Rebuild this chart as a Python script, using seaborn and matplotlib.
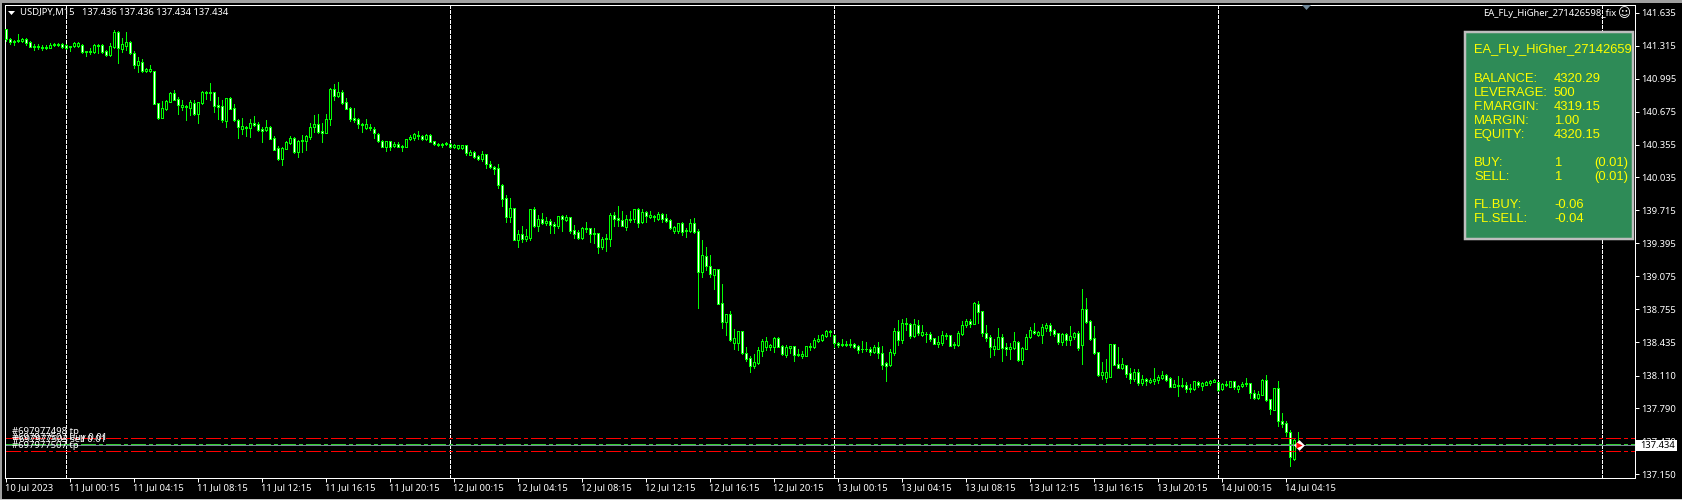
import matplotlib
matplotlib.use("Agg")
import matplotlib.pyplot as plt
from matplotlib.patches import Polygon, Rectangle
from matplotlib.transforms import ScaledTranslation
import pandas as pd
import seaborn as sns

# USDJPY M15 candles, prices
tops = [
    141.475, 141.378, 141.365, 141.371, 141.381, 141.378, 141.352, 141.313, 141.313, 141.306, 141.303, 141.323, 141.332, 141.332, 141.329, 141.319,
    141.310, 141.345, 141.345, 141.323, 141.261, 141.264, 141.323, 141.323, 141.323, 141.264, 141.313, 141.452, 141.446, 141.329, 141.352, 141.352,
    141.242, 141.164, 141.157, 141.086, 141.086, 141.067, 140.756, 140.710, 140.775, 140.856, 140.853, 140.798, 140.736, 140.730, 140.765, 140.759,
    140.765, 140.866, 140.866, 140.866, 140.863, 140.736, 140.726, 140.804, 140.807, 140.707, 140.590, 140.532, 140.529, 140.561, 140.561, 140.555,
    140.503, 140.526, 140.526, 140.419, 140.318, 140.321, 140.380, 140.416, 140.419, 140.390, 140.399, 140.435, 140.526, 140.551, 140.551, 140.487,
    140.600, 140.895, 140.892, 140.863, 140.866, 140.765, 140.707, 140.610, 140.600, 140.555, 140.551, 140.526, 140.503, 140.461, 140.393, 140.386,
    140.386, 140.357, 140.360, 140.341, 140.406, 140.428, 140.454, 140.448, 140.438, 140.448, 140.448, 140.386, 140.364, 140.357, 140.370, 140.357,
    140.347, 140.347, 140.347, 140.347, 140.282, 140.282, 140.243, 140.259, 140.259, 140.162, 140.136, 140.123, 139.961, 139.832, 139.735, 139.735,
    139.482, 139.482, 139.462, 139.725, 139.725, 139.628, 139.628, 139.608, 139.608, 139.579, 139.657, 139.657, 139.647, 139.647, 139.521, 139.501,
    139.543, 139.543, 139.540, 139.495, 139.492, 139.437, 139.446, 139.667, 139.667, 139.637, 139.618, 139.628, 139.634, 139.725, 139.725, 139.696,
    139.696, 139.667, 139.657, 139.680, 139.680, 139.637, 139.618, 139.550, 139.589, 139.595, 139.524, 139.589, 139.589, 139.511, 139.278, 139.268,
    139.171, 139.142, 139.142, 138.811, 138.704, 138.704, 138.471, 138.539, 138.539, 138.325, 138.277, 138.238, 138.358, 138.445, 138.442, 138.406,
    138.474, 138.474, 138.393, 138.384, 138.393, 138.393, 138.319, 138.319, 138.393, 138.400, 138.452, 138.465, 138.503, 138.539, 138.542, 138.500,
    138.422, 138.417, 138.417, 138.417, 138.413, 138.394, 138.371, 138.371, 138.365, 138.384, 138.384, 138.326, 138.229, 138.336, 138.540, 138.540,
    138.618, 138.618, 138.608, 138.608, 138.601, 138.530, 138.517, 138.514, 138.472, 138.433, 138.501, 138.504, 138.501, 138.417, 138.520, 138.601,
    138.637, 138.640, 138.815, 138.802, 138.734, 138.520, 138.482, 138.394, 138.482, 138.482, 138.384, 138.384, 138.443, 138.436, 138.378, 138.482,
    138.550, 138.543, 138.530, 138.579, 138.598, 138.598, 138.550, 138.520, 138.514, 138.514, 138.491, 138.520, 138.520, 138.754, 138.754, 138.637,
    138.472, 138.336, 138.145, 138.148, 138.417, 138.417, 138.219, 138.219, 138.209, 138.132, 138.145, 138.145, 138.073, 138.073, 138.070, 138.077,
    138.093, 138.112, 138.112, 138.083, 138.025, 138.015, 138.015, 138.015, 137.989, 138.054, 138.051, 138.034, 138.047, 138.057, 138.067, 138.044,
    138.024, 138.024, 138.054, 138.054, 138.012, 138.028, 138.034, 138.034, 137.937, 137.931, 138.067, 138.067, 137.879, 137.986, 137.986, 137.671,
    137.645, 137.561, 137.483, 137.441,
]
bottoms = [
    141.378, 141.352, 141.355, 141.361, 141.365, 141.339, 141.306, 141.303, 141.300, 141.297, 141.297, 141.297, 141.323, 141.326, 141.303, 141.297,
    141.300, 141.310, 141.316, 141.255, 141.251, 141.258, 141.255, 141.316, 141.255, 141.225, 141.225, 141.300, 141.290, 141.280, 141.316, 141.242,
    141.131, 141.131, 141.067, 141.067, 141.067, 140.752, 140.613, 140.616, 140.704, 140.772, 140.791, 140.736, 140.723, 140.717, 140.710, 140.655,
    140.655, 140.762, 140.859, 140.859, 140.733, 140.723, 140.594, 140.587, 140.704, 140.594, 140.529, 140.509, 140.513, 140.519, 140.548, 140.496,
    140.490, 140.496, 140.412, 140.305, 140.211, 140.211, 140.315, 140.367, 140.283, 140.283, 140.386, 140.390, 140.432, 140.522, 140.480, 140.464,
    140.470, 140.600, 140.830, 140.830, 140.762, 140.704, 140.607, 140.597, 140.558, 140.545, 140.519, 140.513, 140.464, 140.390, 140.334, 140.334,
    140.334, 140.338, 140.334, 140.334, 140.334, 140.406, 140.422, 140.435, 140.406, 140.406, 140.383, 140.357, 140.354, 140.350, 140.357, 140.328,
    140.334, 140.318, 140.318, 140.269, 140.256, 140.237, 140.217, 140.217, 140.162, 140.133, 140.120, 139.958, 139.829, 139.654, 139.650, 139.430,
    139.430, 139.437, 139.440, 139.450, 139.563, 139.563, 139.592, 139.595, 139.576, 139.566, 139.566, 139.628, 139.624, 139.518, 139.488, 139.446,
    139.449, 139.537, 139.488, 139.488, 139.362, 139.359, 139.433, 139.440, 139.634, 139.618, 139.566, 139.556, 139.624, 139.628, 139.595, 139.605,
    139.663, 139.647, 139.647, 139.628, 139.631, 139.615, 139.547, 139.518, 139.514, 139.508, 139.511, 139.514, 139.508, 139.119, 139.119, 139.171,
    139.100, 139.090, 138.808, 138.633, 138.633, 138.458, 138.429, 138.429, 138.332, 138.273, 138.205, 138.205, 138.231, 138.351, 138.387, 138.384,
    138.387, 138.390, 138.322, 138.309, 138.374, 138.309, 138.306, 138.299, 138.303, 138.390, 138.387, 138.448, 138.455, 138.494, 138.533, 138.422,
    138.406, 138.407, 138.407, 138.407, 138.388, 138.358, 138.365, 138.365, 138.342, 138.339, 138.326, 138.213, 138.206, 138.213, 138.332, 138.456,
    138.456, 138.608, 138.494, 138.498, 138.520, 138.504, 138.511, 138.465, 138.420, 138.420, 138.426, 138.494, 138.400, 138.407, 138.407, 138.517,
    138.601, 138.614, 138.614, 138.728, 138.527, 138.478, 138.391, 138.368, 138.371, 138.381, 138.371, 138.371, 138.378, 138.261, 138.261, 138.371,
    138.485, 138.527, 138.507, 138.504, 138.575, 138.546, 138.517, 138.439, 138.436, 138.459, 138.459, 138.488, 138.381, 138.404, 138.631, 138.465,
    138.329, 138.115, 138.119, 138.090, 138.099, 138.216, 138.187, 138.180, 138.128, 138.080, 138.073, 138.034, 138.038, 138.060, 138.051, 138.060,
    138.067, 138.089, 138.067, 138.002, 138.002, 138.008, 138.008, 137.983, 137.983, 137.979, 138.018, 138.012, 138.021, 138.041, 138.051, 137.973,
    137.976, 138.015, 138.002, 137.999, 137.982, 138.008, 138.024, 137.937, 137.895, 137.892, 137.924, 137.875, 137.785, 137.778, 137.668, 137.642,
    137.558, 137.315, 137.302, 137.432,
]
highs = [
    141.481, 141.394, 141.371, 141.426, 141.387, 141.387, 141.361, 141.329, 141.332, 141.323, 141.319, 141.339, 141.345, 141.342, 141.339, 141.329,
    141.316, 141.355, 141.355, 141.332, 141.268, 141.293, 141.332, 141.332, 141.332, 141.274, 141.339, 141.468, 141.462, 141.387, 141.449, 141.365,
    141.261, 141.203, 141.183, 141.096, 141.128, 141.073, 140.762, 140.782, 140.788, 140.863, 140.885, 140.814, 140.788, 140.739, 140.788, 140.788,
    140.772, 140.879, 140.875, 140.950, 140.869, 140.820, 140.788, 140.811, 140.820, 140.749, 140.600, 140.610, 140.535, 140.600, 140.632, 140.577,
    140.529, 140.594, 140.535, 140.438, 140.341, 140.334, 140.393, 140.438, 140.432, 140.399, 140.448, 140.445, 140.568, 140.642, 140.652, 140.561,
    140.652, 140.908, 140.944, 140.963, 140.885, 140.804, 140.717, 140.707, 140.610, 140.568, 140.603, 140.555, 140.529, 140.470, 140.399, 140.393,
    140.393, 140.380, 140.383, 140.354, 140.412, 140.448, 140.470, 140.487, 140.448, 140.458, 140.454, 140.393, 140.373, 140.373, 140.376, 140.366,
    140.357, 140.350, 140.350, 140.350, 140.302, 140.292, 140.253, 140.289, 140.266, 140.191, 140.146, 140.166, 139.971, 139.864, 139.835, 139.741,
    139.524, 139.563, 139.534, 139.731, 139.748, 139.670, 139.689, 139.647, 139.631, 139.599, 139.663, 139.673, 139.673, 139.654, 139.569, 139.524,
    139.556, 139.602, 139.547, 139.547, 139.498, 139.453, 139.485, 139.686, 139.696, 139.757, 139.709, 139.670, 139.709, 139.731, 139.738, 139.725,
    139.705, 139.709, 139.673, 139.699, 139.692, 139.676, 139.628, 139.560, 139.595, 139.602, 139.540, 139.634, 139.641, 139.530, 139.427, 139.359,
    139.281, 139.148, 139.148, 139.000, 138.711, 138.733, 138.562, 138.539, 138.542, 138.384, 138.299, 138.319, 138.384, 138.461, 138.484, 138.416,
    138.481, 138.481, 138.403, 138.403, 138.400, 138.396, 138.367, 138.348, 138.400, 138.422, 138.471, 138.503, 138.513, 138.552, 138.552, 138.507,
    138.435, 138.465, 138.446, 138.465, 138.423, 138.407, 138.446, 138.436, 138.384, 138.410, 138.436, 138.397, 138.242, 138.365, 138.569, 138.650,
    138.656, 138.673, 138.624, 138.656, 138.650, 138.601, 138.533, 138.533, 138.475, 138.498, 138.546, 138.524, 138.507, 138.436, 138.546, 138.640,
    138.660, 138.656, 138.825, 138.835, 138.741, 138.601, 138.501, 138.465, 138.572, 138.511, 138.430, 138.426, 138.533, 138.446, 138.384, 138.514,
    138.582, 138.621, 138.540, 138.608, 138.618, 138.618, 138.563, 138.527, 138.520, 138.527, 138.592, 138.533, 138.540, 138.951, 138.864, 138.650,
    138.592, 138.342, 138.242, 138.271, 138.417, 138.417, 138.384, 138.281, 138.216, 138.180, 138.174, 138.170, 138.112, 138.089, 138.086, 138.183,
    138.112, 138.151, 138.125, 138.093, 138.067, 138.102, 138.086, 138.044, 138.031, 138.060, 138.060, 138.051, 138.057, 138.067, 138.080, 138.050,
    138.034, 138.057, 138.060, 138.060, 138.021, 138.047, 138.083, 138.041, 137.969, 137.956, 138.073, 138.115, 137.885, 137.992, 138.054, 137.743,
    137.665, 137.581, 137.490, 137.561,
]
lows = [
    141.365, 141.332, 141.323, 141.352, 141.355, 141.319, 141.300, 141.274, 141.287, 141.277, 141.280, 141.290, 141.313, 141.316, 141.293, 141.287,
    141.268, 141.300, 141.306, 141.248, 141.219, 141.238, 141.248, 141.248, 141.248, 141.219, 141.219, 141.290, 141.151, 141.258, 141.274, 141.235,
    141.099, 141.060, 141.060, 141.060, 141.060, 140.746, 140.607, 140.610, 140.691, 140.769, 140.788, 140.652, 140.691, 140.594, 140.642, 140.642,
    140.568, 140.749, 140.798, 140.788, 140.675, 140.600, 140.577, 140.529, 140.697, 140.581, 140.422, 140.454, 140.438, 140.432, 140.535, 140.490,
    140.383, 140.487, 140.406, 140.302, 140.205, 140.159, 140.308, 140.360, 140.276, 140.237, 140.286, 140.302, 140.406, 140.480, 140.470, 140.383,
    140.464, 140.545, 140.788, 140.820, 140.749, 140.697, 140.587, 140.574, 140.513, 140.480, 140.503, 140.496, 140.422, 140.383, 140.328, 140.296,
    140.302, 140.328, 140.328, 140.292, 140.328, 140.396, 140.399, 140.409, 140.399, 140.399, 140.377, 140.347, 140.344, 140.334, 140.347, 140.318,
    140.318, 140.315, 140.315, 140.253, 140.250, 140.224, 140.204, 140.198, 140.130, 140.127, 140.068, 139.932, 139.757, 139.602, 139.602, 139.427,
    139.362, 139.411, 139.417, 139.427, 139.550, 139.514, 139.579, 139.573, 139.495, 139.495, 139.547, 139.514, 139.615, 139.498, 139.449, 139.437,
    139.437, 139.505, 139.407, 139.394, 139.304, 139.343, 139.323, 139.368, 139.563, 139.563, 139.560, 139.524, 139.602, 139.602, 139.553, 139.592,
    139.602, 139.637, 139.615, 139.621, 139.602, 139.602, 139.537, 139.498, 139.495, 139.479, 139.459, 139.505, 139.498, 138.769, 139.070, 139.135,
    139.070, 138.951, 138.805, 138.571, 138.507, 138.445, 138.367, 138.358, 138.322, 138.254, 138.147, 138.183, 138.222, 138.299, 138.358, 138.358,
    138.338, 138.384, 138.306, 138.293, 138.332, 138.254, 138.299, 138.280, 138.299, 138.358, 138.380, 138.432, 138.445, 138.487, 138.497, 138.384,
    138.387, 138.394, 138.397, 138.391, 138.381, 138.329, 138.339, 138.345, 138.310, 138.326, 138.284, 138.174, 138.057, 138.206, 138.310, 138.407,
    138.430, 138.553, 138.475, 138.488, 138.504, 138.494, 138.436, 138.449, 138.413, 138.388, 138.407, 138.465, 138.394, 138.378, 138.397, 138.507,
    138.585, 138.585, 138.611, 138.618, 138.498, 138.449, 138.290, 138.310, 138.365, 138.251, 138.310, 138.271, 138.368, 138.255, 138.222, 138.365,
    138.475, 138.514, 138.498, 138.426, 138.546, 138.504, 138.498, 138.417, 138.410, 138.410, 138.404, 138.462, 138.355, 138.222, 138.618, 138.456,
    138.320, 138.106, 138.080, 138.047, 138.093, 138.209, 138.180, 138.170, 138.099, 138.041, 138.057, 138.018, 138.018, 138.018, 138.038, 138.028,
    138.034, 138.080, 138.057, 137.996, 137.996, 137.911, 137.996, 137.950, 137.950, 137.970, 137.996, 137.970, 138.015, 138.018, 138.044, 137.963,
    137.969, 138.008, 137.995, 137.976, 137.953, 138.002, 138.012, 137.888, 137.885, 137.882, 137.918, 137.866, 137.736, 137.772, 137.623, 137.613,
    137.526, 137.231, 137.289, 137.412,
]
# bars with a black body (close above open)
up_bars = [
    2, 3, 4, 8, 10, 11, 12, 17, 18, 20, 21, 22, 23, 26, 27, 29, 30, 33, 35, 36, 39, 40, 41, 44, 46, 48, 49, 50, 51, 55, 59, 60, 61, 65,
    69, 70, 71, 73, 74, 75, 76, 77, 80, 81, 83, 90, 95, 97, 100, 101, 102, 103, 105, 108, 109, 110, 112, 113, 114, 116, 119, 126, 128,
    130, 131, 133, 135, 138, 140, 144, 145, 149, 150, 151, 155, 156, 157, 159, 161, 163, 167, 168, 171, 174, 177, 180, 182, 183, 187,
    188, 189, 190, 191, 192, 195, 196, 199, 200, 201, 202, 203, 204, 205, 210, 214, 217, 221, 222, 224, 227, 229, 233, 234, 238, 239,
    240, 242, 247, 248, 251, 252, 254, 255, 256, 258, 259, 260, 264, 266, 267, 269, 274, 275, 276, 279, 282, 284, 286, 287, 288, 289,
    292, 294, 296, 297, 299, 300, 301, 302, 304, 305, 306, 308, 309, 310, 313, 314, 317, 322,
]

time_labels = [
    "10 Jul 2023", "11 Jul 00:15", "11 Jul 04:15", "11 Jul 08:15", "11 Jul 12:15", "11 Jul 16:15", "11 Jul 20:15",
    "12 Jul 00:15", "12 Jul 04:15", "12 Jul 08:15", "12 Jul 12:15", "12 Jul 16:15", "12 Jul 20:15",
    "13 Jul 00:15", "13 Jul 04:15", "13 Jul 08:15", "13 Jul 12:15", "13 Jul 16:15", "13 Jul 20:15",
    "14 Jul 00:15", "14 Jul 04:15",
]
time_ticks = list(range(0, 321, 16))
day_separators = [15, 111, 207, 303, 399]
price_labels = [
    "141.635", "141.315", "140.995", "140.675", "140.355", "140.035", "139.715", "139.395",
    "139.075", "138.755", "138.435", "138.110", "137.790", "137.470", "137.150",
]
price_ticks = [float(p) for p in price_labels]

last_price = 137.434
red_levels = [137.500, 137.373]

panel_rows = [
    ("BALANCE:", "4320.29", "", 79), ("LEVERAGE:", "500", "", 93), ("F.MARGIN:", "4319.15", "", 107),
    ("MARGIN:", "1.00", "", 121), ("EQUITY:", "4320.15", "", 135), ("BUY:", "1", "(0.01)", 163),
    ("SELL:", "1", "(0.01)", 177), ("FL.BUY:", "-0.06", "", 205), ("FL.SELL:", "-0.04", "", 219),
]
order_labels = [
    ("#697977498 tp", 12, 432), ("#697977502 buy 0.01", 12, 438), ("#697977503 sell 0.01", 13, 439), ("#697977507 tp", 12, 446),
]

W, H = 1682, 500
PX = 0.72  # one screen pixel in points at dpi 100
LIME = "#00FF00"
UI_FONT = "Noto Sans"
UI_SIZE = 6.8

sns.set_theme(style="dark", rc={
    "axes.facecolor": "black", "figure.facecolor": "black", "axes.edgecolor": "white",
    "axes.linewidth": PX, "xtick.color": "white", "ytick.color": "white",
    "xtick.bottom": True, "ytick.right": True, "lines.scale_dashes": False,
})
plt.rcParams["font.family"] = [UI_FONT, "DejaVu Sans"]

fig = plt.figure(figsize=(W / 100, H / 100), dpi=100)
ax = fig.add_axes([4.5 / W, 1 - 477.5 / H, 1630 / W, 473 / H])

bars = list(range(len(tops)))
wicks = pd.DataFrame({
    "bar": bars + bars,
    "price": highs + lows,
})
sns.lineplot(data=wicks, x="bar", y="price", units="bar", estimator=None, color=LIME,
             linewidth=PX, antialiased=False, ax=ax, zorder=3, legend=False)

up = set(up_bars)
fills = ["black" if i in up else "white" for i in bars]
heights = [t - b for t, b in zip(tops, bottoms)]
ax.bar(bars, heights, bottom=bottoms, width=0.5, color=fills, edgecolor=LIME,
       linewidth=PX, antialiased=False, zorder=4)

ax.set_xlim(-0.29, 407.21)
ax.set_ylim(137.119, 141.716)

ax.vlines(day_separators, 137.119, 141.716, color="white", linewidth=PX,
          linestyles=[(0, (3 * PX, 2 * PX))], antialiased=False, zorder=2)

level_dash = (0, (14 * PX, 4 * PX, 3 * PX, 3 * PX))
ax.hlines(red_levels, 0, 407.21, color="#FF0000", linewidth=PX, linestyles=[level_dash],
          antialiased=False, zorder=5)
ax.hlines(last_price, 0, 407.21, color="#32CD32", linewidth=2 * PX, linestyles=[level_dash],
          antialiased=False, zorder=5)
ax.hlines(last_price, 0, 407.21, color="#778899", linewidth=PX, antialiased=False, zorder=6)

# position marker on the last bar
ax.scatter([323.4], [last_price], marker="D", s=30, color="white", linewidths=0, zorder=7)
ax.scatter([323.4], [last_price], marker=">", s=20, color="#FF0000", linewidths=0, zorder=8)

ax.set_xticks(time_ticks, time_labels, ha="left", fontsize=UI_SIZE, color="white")
ax.yaxis.tick_right()
ax.set_yticks(price_ticks, price_labels, fontsize=UI_SIZE, color="white")
ax.tick_params(axis="x", length=4 * PX, width=PX, pad=1.5, color="white")
ax.tick_params(axis="y", length=4 * PX, width=PX, pad=2, color="white")
shift_left = ScaledTranslation(-1 / 100, 0, fig.dpi_scale_trans)
for lab in ax.get_xticklabels():
    lab.set_transform(lab.get_transform() + shift_left)
ax.set_xlabel("")
ax.set_ylabel("")
ax.grid(False)
for side in ax.spines.values():
    side.set_color("white")
    side.set_linewidth(PX)

# screen furniture in pixel coordinates
ui = fig.add_axes([0, 0, 1, 1], facecolor="none")
ui.set_xlim(0, W)
ui.set_ylim(H, 0)
ui.axis("off")
ui.add_patch(Rectangle((0, 0), W, 3, color="#A0A0A0", lw=0))
ui.add_patch(Rectangle((0, 0), 2, H, color="#A0A0A0", lw=0))
ui.add_patch(Rectangle((0, 498.7), W, 1.3, color="#C8C8C8", lw=0))

ui.add_patch(Polygon([(8, 11), (15, 11), (11.5, 15)], color="white", lw=0))
ui.text(20, 13, "USDJPY,M15   137.436 137.436 137.434 137.434", color="white", fontsize=UI_SIZE, va="center")
ui.text(1616, 14, "EA_FLy_HiGher_271426598_fix", color="white", fontsize=UI_SIZE, va="center", ha="right")
ui.text(1624, 14, "\u263a", color="white", fontsize=9, va="center", ha="center", family="DejaVu Sans")
ui.add_patch(Polygon([(1302, 5), (1311, 5), (1306.5, 10)], color="#6F8799", lw=0))

for text, x, y in order_labels:
    ui.text(x, y, text, color="white", fontsize=UI_SIZE, va="center")

# account panel
panel = Rectangle((1465.5, 31.5), 167.5, 207, facecolor="#2E8B57", edgecolor="#BEBEBE", linewidth=2.5 * PX)
ui.add_patch(panel)
title = ui.text(1474, 50, "EA_FLy_HiGher_271426598", color="#FFFF00", fontsize=9.3, va="center",
                family="Liberation Sans", clip_on=True)
title.set_clip_path(Rectangle((1467, 33), 164, 204, transform=ui.transData))
for name, value, lots, y in panel_rows:
    ui.text(1474, y, name, color="#FFFF00", fontsize=9.4, va="center", family="Liberation Sans")
    ui.text(1554, y, value, color="#FFFF00", fontsize=9.4, va="center", family="Liberation Sans")
    if lots:
        ui.text(1594, y, lots, color="#FFFF00", fontsize=9.4, va="center", family="Liberation Sans")

# current price box
ui.add_patch(Rectangle((1636, 440), 41, 11, color="white", lw=0))
ui.text(1640, 445.5, "137.434", color="black", fontsize=UI_SIZE, va="center")

fig.savefig("out.png", dpi=100, facecolor="black")
